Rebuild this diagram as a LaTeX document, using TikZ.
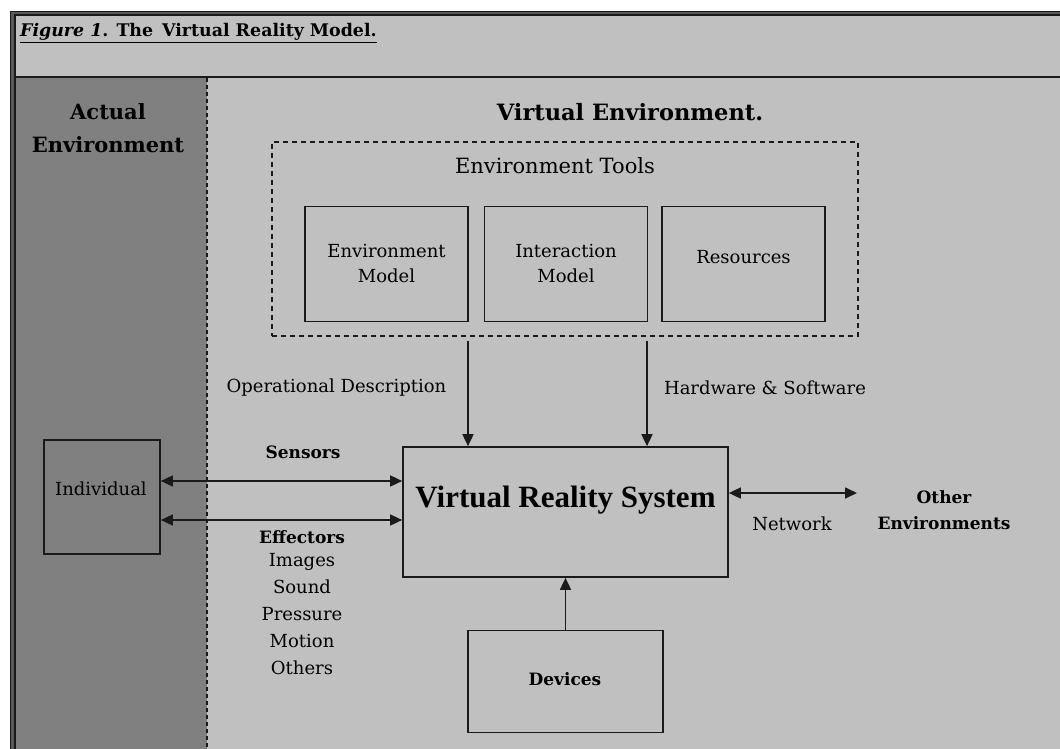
\documentclass[tikz,border=0pt]{standalone}
\usepackage{fontspec}
\setmainfont{DejaVu Serif}
\newfontfamily\timesfont{Liberation Serif}
\usetikzlibrary{arrows.meta}
\definecolor{darkpanel}{HTML}{808080}
\definecolor{lightpanel}{HTML}{C0C0C0}
\definecolor{edge}{HTML}{1A1A1A}
\begin{document}
\begin{tikzpicture}[x=1pt,y=-1pt,
  box/.style={draw=edge,line width=1.7pt,inner sep=0pt,align=center},
  dashbox/.style={draw=edge,line width=1.5pt,dash pattern=on 5pt off 4pt,inner sep=0pt},
  txt/.style={inner sep=0pt,align=center,font=\fontsize{18}{25}\selectfont},
  btxt/.style={inner sep=0pt,align=center,font=\fontsize{17}{26}\selectfont\bfseries},
  head/.style={inner sep=0pt,align=center,font=\fontsize{21}{33}\selectfont\bfseries},
  arr/.style={edge,line width=1.7pt,-{Triangle[length=12pt,width=11pt]}},
  biarr/.style={edge,line width=1.7pt,{Triangle[length=12pt,width=11pt]}-{Triangle[length=12pt,width=11pt]}},
]
\useasboundingbox (0,0) rectangle (1060,749);
\fill[white] (0,0) rectangle (1060,749);
\fill[darkpanel!70!black] (10,11) rectangle (1060,749);
\fill[lightpanel] (15.7,15.7) rectangle (1060,77);
\fill[darkpanel] (15.7,78) rectangle (207,749);
\fill[lightpanel] (207,78) rectangle (1060,749);
\draw[edge,line width=1.3pt] (10.6,749) -- (10.6,11.6) -- (1060,11.6);
\draw[edge,line width=1.6pt] (15,749) -- (15,15) -- (1060,15);
\draw[edge,line width=1.8pt] (15,77) -- (1060,77);
\draw[edge,line width=1.5pt,dash pattern=on 4pt off 3pt] (207,78) -- (207,749);

% title
\node[anchor=base west,inner sep=0pt,font=\fontsize{17.4}{20}\selectfont\bfseries] (title) at (20,37)
  {\underline{\textit{Figure 1}. The\, Virtual Reality Model.}};

% headings
\node[head] (actual) at (108,128) {Actual\\Environment};
\node[head,font=\fontsize{22.5}{33}\selectfont\bfseries] (virtual) at (630,112) {Virtual Environment.};

% environment tools
\node[dashbox,minimum width=586pt,minimum height=194pt] (tools) at (565,239) {};
\node[txt,font=\fontsize{21}{25}\selectfont] (toolslabel) at (555,166) {Environment Tools};
\node[box,minimum width=163pt,minimum height=115pt] (envmodel) at (386.5,264) {};
\node[txt] (envmodeltxt) at (386.5,264) {Environment\\Model};
\node[box,minimum width=163pt,minimum height=115pt] (intmodel) at (566,264) {};
\node[txt] (intmodeltxt) at (566,264) {Interaction\\Model};
\node[box,minimum width=163pt,minimum height=115pt] (resources) at (743.5,264) {};
\node[txt] (restxt) at (743.5,257) {Resources};

% VR system
\node[box,minimum width=325pt,minimum height=130pt] (vrs) at (565.5,512) {};
\node[inner sep=0pt,font=\fontsize{31}{36}\selectfont\timesfont\bfseries] (vrstxt) at (565.5,500) {Virtual Reality System};

% arrows from tools
\coordinate (opsrc) at (468,341);
\coordinate (hwsrc) at (647,341);
\draw[arr] (opsrc) -- (opsrc |- vrs.north);
\draw[arr] (hwsrc) -- (hwsrc |- vrs.north);
\node[txt] (oplabel) at (336.5,388) {Operational Description};
\node[txt] (hwlabel) at (765,388) {Hardware \& Software};

% individual
\node[box,minimum width=116pt,minimum height=114pt] (ind) at (102,497) {};
\node[txt] (indtxt) at (101,489) {Individual};
\path ([yshift=16pt]ind.east) coordinate (sens);
\path ([yshift=-23pt]ind.east) coordinate (eff);
\draw[biarr] (sens) -- (sens -| vrs.west);
\draw[biarr] (eff) -- (eff -| vrs.west);
\node[btxt] (sensors) at (303,452) {Sensors};
\node[btxt] (effectors) at (302,537) {Effectors};
\node[txt,font=\fontsize{18}{27}\selectfont,anchor=north] (efflist) at (302,553)
  {Images\\Sound\\Pressure\\Motion\\Others};

% network
\path ([yshift=19pt]vrs.east) coordinate (netsrc);
\coordinate (netend) at (857,493);
\draw[biarr] (netsrc) -- (netend);
\node[txt] (network) at (792,524) {Network};
\node[btxt] (other) at (944,510) {Other\\Environments};

% devices
\node[box,minimum width=195pt,minimum height=102pt] (devices) at (565.5,681.5) {};
\node[btxt] (devtxt) at (565,679) {Devices};
\draw[arr] (devices.north) -- (vrs.south);
\end{tikzpicture}
\end{document}
